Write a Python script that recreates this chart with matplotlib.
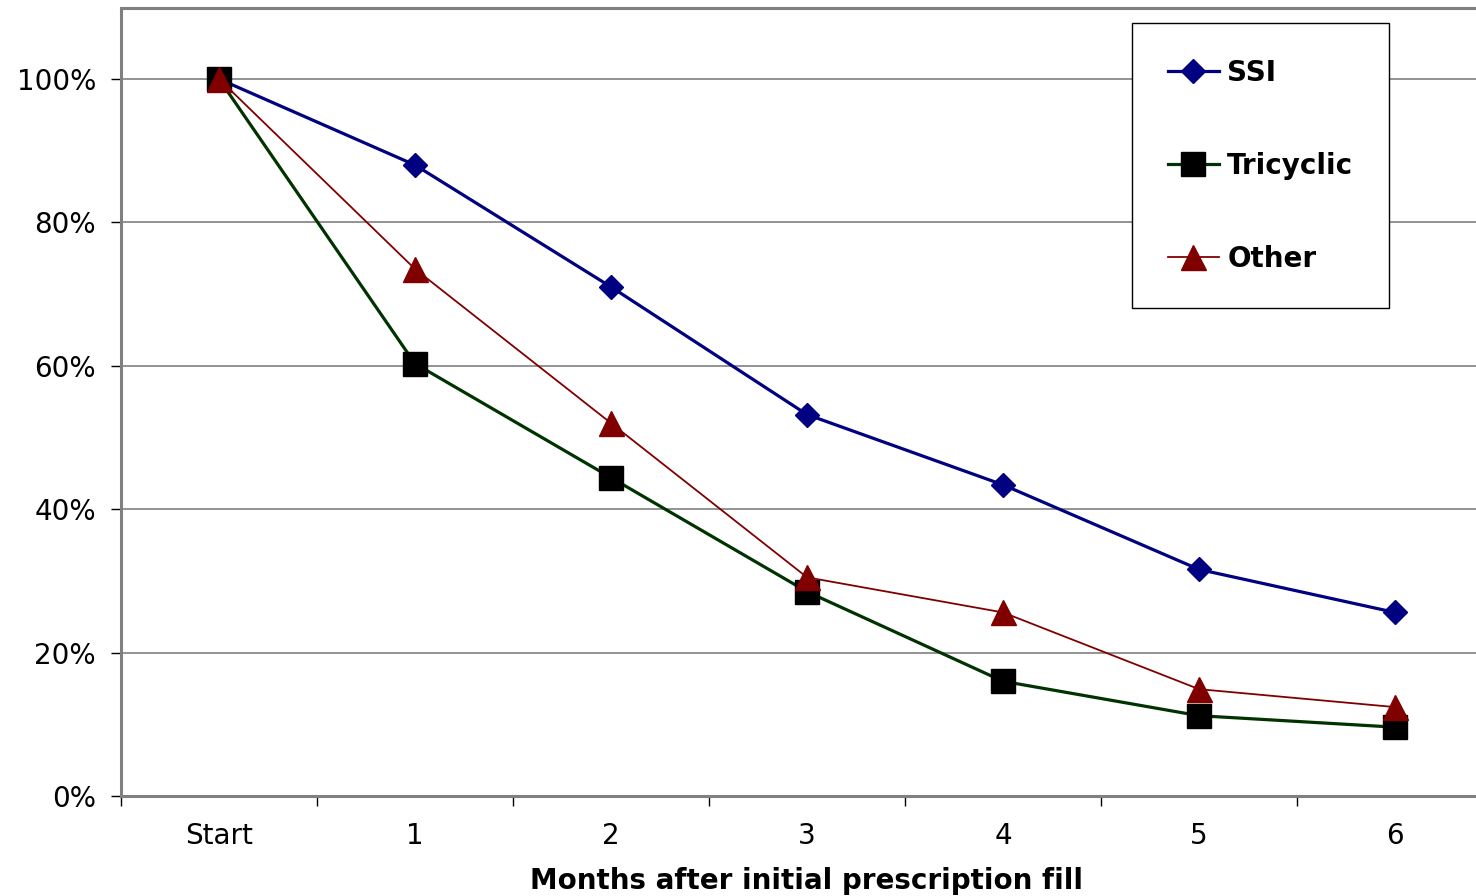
import matplotlib
matplotlib.use("Agg")
import matplotlib.pyplot as plt
from matplotlib.ticker import FixedLocator, PercentFormatter

categories = ["Start", "1", "2", "3", "4", "5", "6"]
ssi = [100, 88.0, 71.0, 53.2, 43.4, 31.6, 25.6]
tricyclic = [100, 60.3, 44.4, 28.5, 16.0, 11.2, 9.6]
other = [100, 73.5, 52.0, 30.5, 25.6, 14.9, 12.4]
yticks = [0, 20, 40, 60, 80, 100]

plt.rcParams['font.family'] = ['DejaVu Sans']

W, H = 1476, 896
fig = plt.figure(figsize=(W / 100, H / 100), dpi=100)
left = 121 / W
bottom = 1 - 796 / H
top = 1 - 8 / H
width = (1493 - 121) / W
ax = fig.add_axes([left, bottom, width, top - bottom])

x = list(range(len(categories)))
ax.plot(x, ssi, color='#000080', lw=2.3, marker='D', ms=12, mfc='#000080', mec='#000080', label='SSI', zorder=3)
ax.plot(x, tricyclic, color='#003300', lw=2.3, marker='s', ms=17, mfc='black', mec='black', label='Tricyclic', zorder=4)
ax.plot(x, other, color='#800000', lw=1.3, marker='^', ms=18, mfc='#800000', mec='#800000', label='Other', zorder=5)

ax.set_xlim(-0.5, 6.5)
ax.set_ylim(0, 109.9)
ax.set_yticks(yticks)
ax.yaxis.set_major_formatter(PercentFormatter(decimals=0))
ax.grid(axis='y', color='#808080', lw=1.2)
ax.set_axisbelow(True)

ax.set_xticks(x)
ax.set_xticklabels(categories)
ax.xaxis.set_minor_locator(FixedLocator([i - 0.5 for i in range(len(categories) + 1)]))
ax.tick_params(axis='x', which='major', length=0, pad=19, labelsize=20)
ax.tick_params(axis='x', which='minor', length=7, width=1, color='black', direction='out')
ax.tick_params(axis='y', which='major', length=7, width=1, color='black', direction='out', pad=11, labelsize=20)

for s in ['left', 'bottom', 'top']:
    ax.spines[s].set_color('#808080')
    ax.spines[s].set_linewidth(2.2)
ax.spines['right'].set_visible(False)

ax.set_xlabel('Months after initial prescription fill', fontsize=20, fontweight='bold', labelpad=12)

leg = ax.legend(loc='upper left', bbox_to_anchor=(1132 / W, 1 - 23 / H), bbox_transform=fig.transFigure,
                prop={'size': 20, 'weight': 'bold'}, labelspacing=2.34, handlelength=1.85, handletextpad=0.3,
                borderpad=1.28, borderaxespad=0, fancybox=False, framealpha=1, edgecolor='black')
leg.get_frame().set_linewidth(1.0)

fig.savefig('out.png', dpi=100)
